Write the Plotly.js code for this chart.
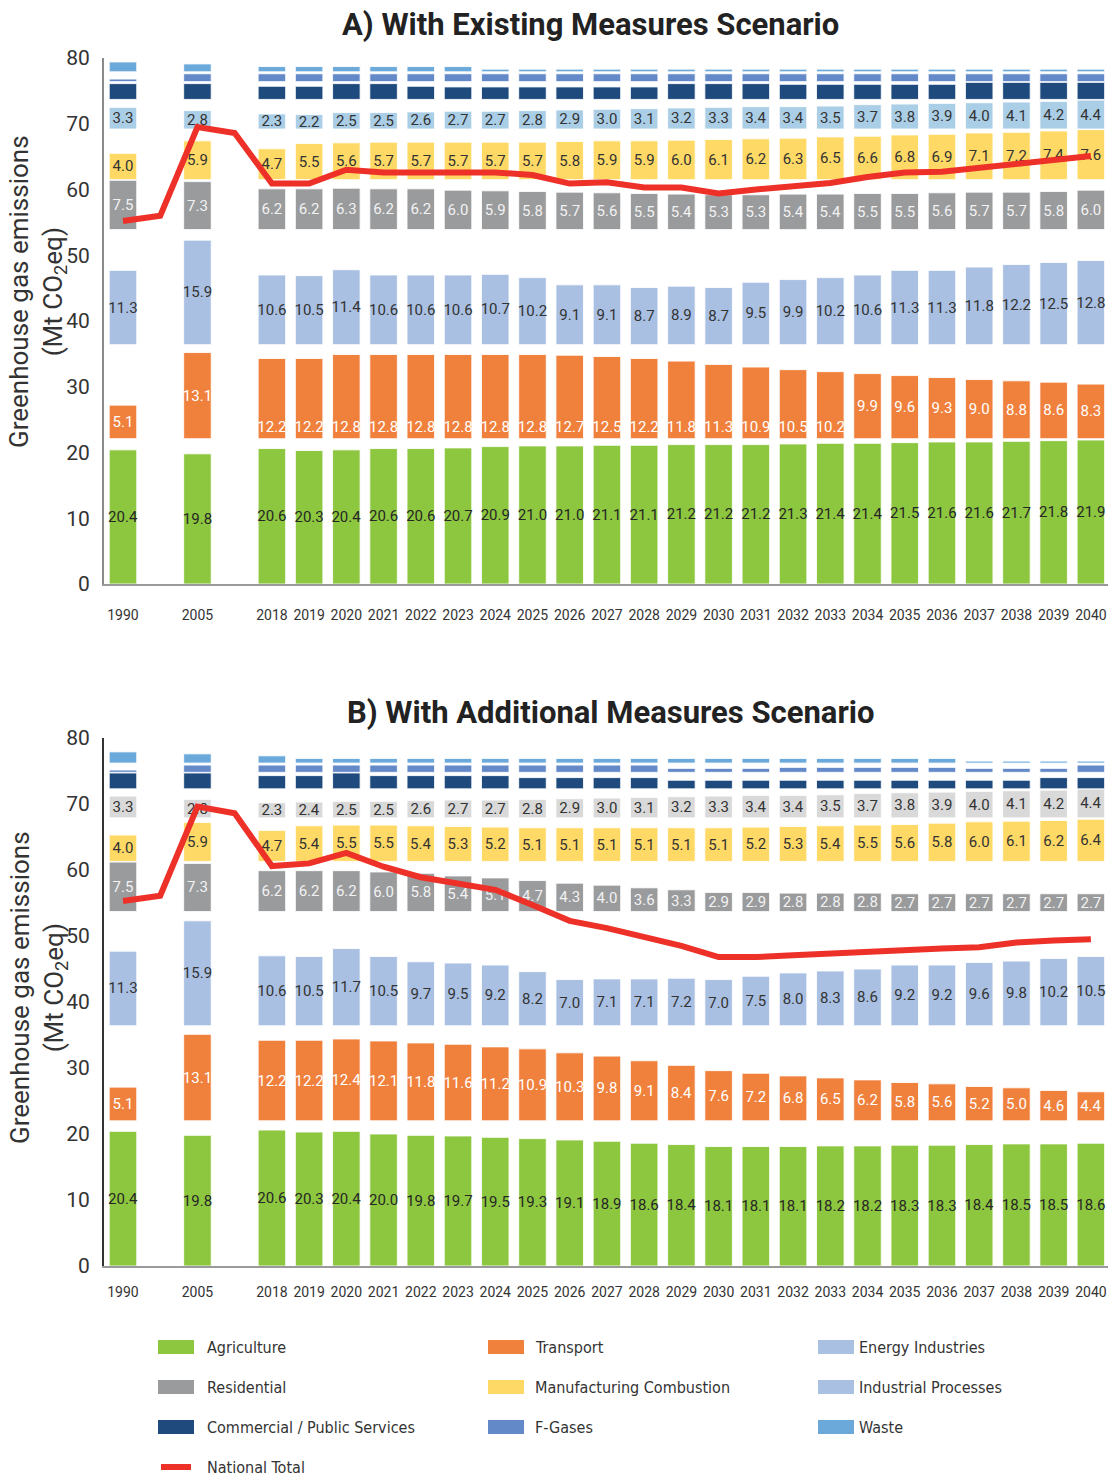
<!DOCTYPE html>
<html>
<head>
<meta charset="utf-8">
<script src="https://cdn.plot.ly/plotly-3.0.1.min.js"></script>
<style>
html,body{margin:0;padding:0;background:#ffffff;}
#chart{width:1120px;height:1479px;}
</style>
</head>
<body>
<div id="chart"></div>
<script>
// ---------- categories ----------
const slotCategories = ['1990',' ','2005','  ','2018','2019','2020','2021','2022','2023','2024','2025','2026','2027','2028','2029','2030','2031','2032','2033','2034','2035','2036','2037','2038','2039','2040'];
const years = ['1990','2005','2018','2019','2020','2021','2022','2023','2024','2025','2026','2027','2028','2029','2030','2031','2032','2033','2034','2035','2036','2037','2038','2039','2040'];

// ---------- A) With Existing Measures ----------
const agricultureA   = [20.4,19.8,20.6,20.3,20.4,20.6,20.6,20.7,20.9,21.0,21.0,21.1,21.1,21.2,21.2,21.2,21.3,21.4,21.4,21.5,21.6,21.6,21.7,21.8,21.9];
const transportA     = [5.1,13.1,12.2,12.2,12.8,12.8,12.8,12.8,12.8,12.8,12.7,12.5,12.2,11.8,11.3,10.9,10.5,10.2,9.9,9.6,9.3,9.0,8.8,8.6,8.3];
const energyA        = [11.3,15.9,10.6,10.5,11.4,10.6,10.6,10.6,10.7,10.2,9.1,9.1,8.7,8.9,8.7,9.5,9.9,10.2,10.6,11.3,11.3,11.8,12.2,12.5,12.8];
const residentialA   = [7.5,7.3,6.2,6.2,6.3,6.2,6.2,6.0,5.9,5.8,5.7,5.6,5.5,5.4,5.3,5.3,5.4,5.4,5.5,5.5,5.6,5.7,5.7,5.8,6.0];
const manufacturingA = [4.0,5.9,4.7,5.5,5.6,5.7,5.7,5.7,5.7,5.7,5.8,5.9,5.9,6.0,6.1,6.2,6.3,6.5,6.6,6.8,6.9,7.1,7.2,7.4,7.6];
const industrialA    = [3.3,2.8,2.3,2.2,2.5,2.5,2.6,2.7,2.7,2.8,2.9,3.0,3.1,3.2,3.3,3.4,3.4,3.5,3.7,3.8,3.9,4.0,4.1,4.2,4.4];
const commercialA    = [2.4,2.4,2.0,2.0,2.4,2.4,2.0,1.9,1.9,1.9,1.9,1.9,1.9,2.4,2.4,2.4,2.3,2.3,2.3,2.3,2.3,2.6,2.6,2.6,2.6];
const fgasesA        = [0.4,1.2,1.2,1.2,1.2,1.2,1.2,1.2,1.2,1.2,1.2,1.2,1.2,1.2,1.2,1.2,1.2,1.2,1.2,1.2,1.2,1.2,1.2,1.2,1.2];
const wasteA         = [1.5,1.2,0.8,0.8,0.8,0.8,0.8,0.8,0.4,0.4,0.4,0.4,0.4,0.4,0.4,0.4,0.4,0.4,0.4,0.4,0.4,0.4,0.4,0.4,0.4];
const totalA         = [55.2,56.0,69.5,68.6,60.9,60.9,63.0,62.6,62.6,62.6,62.6,62.2,60.9,61.1,60.3,60.3,59.4,60.0,60.5,61.0,61.9,62.6,62.7,63.3,64.0,64.4,65.1];

// ---------- B) With Additional Measures ----------
const agricultureB   = [20.4,19.8,20.6,20.3,20.4,20.0,19.8,19.7,19.5,19.3,19.1,18.9,18.6,18.4,18.1,18.1,18.1,18.2,18.2,18.3,18.3,18.4,18.5,18.5,18.6];
const transportB     = [5.1,13.1,12.2,12.2,12.4,12.1,11.8,11.6,11.2,10.9,10.3,9.8,9.1,8.4,7.6,7.2,6.8,6.5,6.2,5.8,5.6,5.2,5.0,4.6,4.4];
const energyB        = [11.3,15.9,10.6,10.5,11.7,10.5,9.7,9.5,9.2,8.2,7.0,7.1,7.1,7.2,7.0,7.5,8.0,8.3,8.6,9.2,9.2,9.6,9.8,10.2,10.5];
const residentialB   = [7.5,7.3,6.2,6.2,6.2,6.0,5.8,5.4,5.1,4.7,4.3,4.0,3.6,3.3,2.9,2.9,2.8,2.8,2.8,2.7,2.7,2.7,2.7,2.7,2.7];
const manufacturingB = [4.0,5.9,4.7,5.4,5.5,5.5,5.4,5.3,5.2,5.1,5.1,5.1,5.1,5.1,5.1,5.2,5.3,5.4,5.5,5.6,5.8,6.0,6.1,6.2,6.4];
const industrialB    = [3.3,2.8,2.3,2.4,2.5,2.5,2.6,2.7,2.7,2.8,2.9,3.0,3.1,3.2,3.3,3.4,3.4,3.5,3.7,3.8,3.9,4.0,4.1,4.2,4.4];
const commercialB    = [2.4,2.4,2.0,2.0,2.4,2.0,2.0,2.0,2.0,1.7,1.7,1.7,1.7,1.3,1.3,1.3,1.3,1.3,1.3,1.3,1.3,1.3,1.3,1.7,1.7];
const fgasesB        = [0.35,1.1,1.1,1.1,1.1,1.1,1.1,1.1,1.1,1.1,1.1,1.1,1.1,0.6,0.6,0.6,0.75,0.75,0.75,0.75,0.75,0.6,0.6,0.6,1.1];
const wasteB         = [1.7,1.4,1.1,0.7,0.7,0.7,0.7,0.7,0.7,0.7,0.7,0.7,0.7,0.7,0.7,0.7,0.7,0.7,0.7,0.7,0.7,0.3,0.3,0.3,0.3];
const totalB         = [55.3,56.1,69.6,68.6,60.6,61.0,62.6,60.5,58.9,58.0,57.0,54.7,52.3,51.2,49.9,48.5,46.8,46.8,47.1,47.4,47.6,47.9,48.1,48.3,49.0,49.3,49.5];

// ---------- legend labels ----------
const legendLabels = ['Agriculture','Transport','Energy Industries','Residential','Manufacturing Combustion','Industrial Processes','Commercial / Public Services','F-Gases','Waste','National Total'];

// ---------- styling ----------
const W = 1120, H = 1479, ML = 104, MR = 12;
const NUM_FONT = 'Roboto, "Liberation Sans", Arial, sans-serif';
const NARROW_FONT = '"Liberation Sans Narrow", "DejaVu Sans Condensed", Roboto, sans-serif';
const COL = {
  agri:'#8dc63f', transport:'#f0813d', energy:'#a9c0e2', residential:'#9a9b9d',
  manuf:'#ffd966', industA:'#abcee7', industB:'#d9d9d9', commercial:'#1f4a7d',
  fgases:'#6389c8', waste:'#6ba9da', total:'#ee3128'
};
// fixed band bases for each sector (layout, per panel)
const BASE_A = {agri:0, transport:22.1, energy:36.4, residential:53.9, manuf:61.5, indust:69.2, commercial:73.7, fgases:76.4, waste:77.9};
const BASE_B = {agri:0, transport:22.0, energy:36.4, residential:53.7, manuf:61.3, indust:67.9, commercial:72.3, fgases:74.8, waste:76.2};
// years whose transport label sits at the foot of the bar in panel A (label placement style)
const A_TRANSPORT_FOOT_LABEL = new Set(['2018','2019','2020','2021','2022','2023','2024','2025','2026','2027','2028','2029','2030','2031','2032','2033']);

const px2x = p => (p - ML) / (W - ML - MR);
const px2y = p => 1 - p / H;

function barTrace(values, color, textColor, base, xa, ya, showText, opts) {
  opts = opts || {};
  return {
    type:'bar', x: years, y: values, base: base, width: 0.74,
    xaxis: xa, yaxis: ya,
    marker:{color: opts.hidden ? 'rgba(0,0,0,0)' : color,
            line:{color: opts.hidden ? 'rgba(0,0,0,0)' : 'rgba(255,255,255,0.85)', width: opts.hidden ? 0 : 1}},
    text: showText ? values.map(v => v.toFixed(1)) : null,
    textposition: showText ? (opts.positions || 'inside') : 'none',
    insidetextanchor: opts.anchor || 'middle', textangle:0, constraintext:'none',
    textfont:{family: NUM_FONT, size:15, color: textColor},
    showlegend:false, hoverinfo:'skip', cliponaxis:false
  };
}

function panel(d, B, xa, ya, industColor, footSet) {
  const transportTraces = [];
  if (footSet) {
    transportTraces.push(barTrace(d.transport, COL.transport, '#ffffff', B.transport, xa, ya, true,
      {positions: years.map(y => footSet.has(y) ? 'none' : 'inside')}));
    transportTraces.push(barTrace(d.transport, COL.transport, '#ffffff', B.transport, xa, ya, true,
      {hidden:true, anchor:'start', positions: years.map(y => footSet.has(y) ? 'inside' : 'none')}));
  } else {
    transportTraces.push(barTrace(d.transport, COL.transport, '#ffffff', B.transport, xa, ya, true));
  }
  return [
    barTrace(d.agri, COL.agri, '#262626', B.agri, xa, ya, true)
  ].concat(transportTraces, [
    barTrace(d.energy, COL.energy, '#333333', B.energy, xa, ya, true),
    barTrace(d.residential, COL.residential, '#f2f2f2', B.residential, xa, ya, true),
    barTrace(d.manuf, COL.manuf, '#333333', B.manuf, xa, ya, true),
    barTrace(d.indust, industColor, '#333333', B.indust, xa, ya, true),
    barTrace(d.commercial, COL.commercial, '#ffffff', B.commercial, xa, ya, false),
    barTrace(d.fgases, COL.fgases, '#ffffff', B.fgases, xa, ya, false),
    barTrace(d.waste, COL.waste, '#ffffff', B.waste, xa, ya, false),
    {type:'scatter', mode:'lines', x: slotCategories, y: d.total, xaxis: xa, yaxis: ya,
     line:{color: COL.total, width:6, shape:'linear'}, showlegend:false, hoverinfo:'skip', cliponaxis:false}
  ]);
}

const traces = [].concat(
  panel({agri:agricultureA, transport:transportA, energy:energyA, residential:residentialA, manuf:manufacturingA,
         indust:industrialA, commercial:commercialA, fgases:fgasesA, waste:wasteA, total:totalA}, BASE_A, 'x', 'y', COL.industA, A_TRANSPORT_FOOT_LABEL),
  panel({agri:agricultureB, transport:transportB, energy:energyB, residential:residentialB, manuf:manufacturingB,
         indust:industrialB, commercial:commercialB, fgases:fgasesB, waste:wasteB, total:totalB}, BASE_B, 'x2', 'y2', COL.industB, null)
);

function xAxis(anchor, ticklen) {
  return {
    type:'category', categoryorder:'array', categoryarray: slotCategories,
    range:[-0.51, 26.46], domain:[0,1], anchor: anchor,
    tickmode:'array', tickvals: years, ticktext: years,
    showline:true, linecolor:'#9a9a9a', linewidth:1.5, showgrid:false, zeroline:false,
    ticks:'outside', ticklen: ticklen, tickcolor:'rgba(0,0,0,0)',
    tickfont:{family: NUM_FONT, size:14, color:'#333333'}, fixedrange:true
  };
}
function yAxis(anchor, domain, lineColor) {
  return {
    range:[0,80], domain: domain, anchor: anchor,
    tickmode:'array', tickvals:[0,10,20,30,40,50,60,70,80],
    showline:true, linecolor: lineColor, linewidth:2, showgrid:false, zeroline:false,
    ticks:'outside', ticklen:8, tickcolor:'rgba(0,0,0,0)',
    tickfont:{family: NUM_FONT, size:21, color:'#333333'}, automargin:false, fixedrange:true
  };
}

const annotations = [
  {text:'<b>A) With Existing Measures Scenario</b>', xref:'paper', yref:'paper', x: px2x(590), y: px2y(25),
   xanchor:'center', yanchor:'middle', showarrow:false, font:{family: NUM_FONT, size:31, color:'#222222'}},
  {text:'<b>B) With Additional Measures Scenario</b>', xref:'paper', yref:'paper', x: px2x(610), y: px2y(712),
   xanchor:'center', yanchor:'middle', showarrow:false, font:{family: NUM_FONT, size:31, color:'#222222'}},
  {text:'Greenhouse gas emissions<br>(Mt CO<sub>2</sub>eq)', xref:'paper', yref:'paper', x: px2x(38), y: px2y(292),
   xanchor:'center', yanchor:'middle', textangle:-90, showarrow:false, font:{family: NUM_FONT, size:26, color:'#333333'}},
  {text:'Greenhouse gas emissions<br>(Mt CO<sub>2</sub>eq)', xref:'paper', yref:'paper', x: px2x(38), y: px2y(988),
   xanchor:'center', yanchor:'middle', textangle:-90, showarrow:false, font:{family: NUM_FONT, size:26, color:'#333333'}}
];

// manual legend (3 columns)
const legendColors = [COL.agri, COL.transport, COL.energy, COL.residential, COL.manuf, COL.energy, COL.commercial, COL.fgases, COL.waste, COL.total];
const colSwatchX = [158, 488, 818];
const colTextX = [205, 533, 857];
const rowY = [1347, 1387, 1427, 1467];
const shapes = [];
legendLabels.forEach((lab, i) => {
  const c = i % 3, r = Math.floor(i / 3);
  const x0 = colSwatchX[c], yc = rowY[r];
  if (lab === 'National Total') {
    shapes.push({type:'line', xref:'paper', yref:'paper', x0: px2x(x0+3), x1: px2x(x0+33), y0: px2y(yc), y1: px2y(yc),
                 line:{color: legendColors[i], width:6}});
  } else {
    shapes.push({type:'rect', xref:'paper', yref:'paper', x0: px2x(x0), x1: px2x(x0+36), y0: px2y(yc+7), y1: px2y(yc-7),
                 fillcolor: legendColors[i], line:{width:0}});
  }
  annotations.push({text: lab, xref:'paper', yref:'paper', x: px2x(colTextX[c]), y: px2y(yc),
    xanchor:'left', yanchor:'middle', showarrow:false, font:{family: NARROW_FONT, size:16, color:'#333333'}});
});

const layout = {
  width: W, height: H,
  margin:{l: ML, r: MR, t: 0, b: 0},
  paper_bgcolor:'#ffffff', plot_bgcolor:'#ffffff',
  barmode:'overlay', showlegend:false,
  xaxis: xAxis('y', 18),
  yaxis: yAxis('x', [px2y(584), px2y(58)], '#8a8a8a'),
  xaxis2: xAxis('y2', 13),
  yaxis2: yAxis('x2', [px2y(1266), px2y(738)], '#333333'),
  annotations: annotations,
  shapes: shapes
};

Plotly.newPlot('chart', traces, layout, {displayModeBar:false, staticPlot:true});
</script>
</body>
</html>
